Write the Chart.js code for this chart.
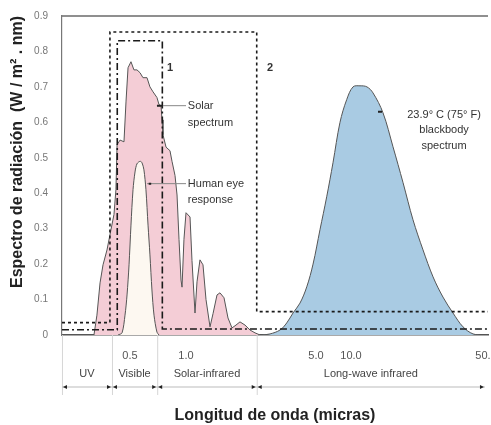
<!DOCTYPE html>
<html>
<head>
<meta charset="utf-8">
<script src="https://cdn.jsdelivr.net/npm/chart.js@4.4.1/dist/chart.umd.min.js"></script>
<style>
  html, body { margin: 0; padding: 0; background: #fff; }
  #wrap { width: 491px; height: 425px; }
</style>
</head>
<body>
<div id="wrap"><canvas id="myChart" width="491" height="425"></canvas></div>
<script>
// wavelength (micras) and value (W / m2 . nm)
let solarUm = [0.320, 0.332, 0.345, 0.358, 0.376, 0.395, 0.410, 0.420, 0.426, 0.442, 0.464, 0.476, 0.488, 0.506, 0.525, 0.545, 0.566, 0.587, 0.617, 0.640, 0.665, 0.698, 0.716, 0.734, 0.743, 0.752, 0.781, 0.820, 0.841, 0.873, 0.895, 0.917, 0.940, 0.952, 0.975, 1.0, 1.051, 1.077, 1.118, 1.146, 1.189, 1.234, 1.281, 1.346, 1.397, 1.468, 1.523, 1.601, 1.682, 1.767, 1.857, 1.951, 2.076, 2.209, 2.35, 2.5]
let solarVal = [0, 0.056, 0.147, 0.198, 0.24, 0.297, 0.34, 0.41, 0.537, 0.55, 0.545, 0.66, 0.754, 0.771, 0.748, 0.748, 0.74, 0.726, 0.726, 0.70, 0.686, 0.67, 0.65, 0.647, 0.607, 0.565, 0.53, 0.52, 0.49, 0.45, 0.395, 0.27, 0.155, 0.135, 0.27, 0.345, 0.333, 0.21, 0.062, 0.15, 0.212, 0.198, 0.10, 0.023, 0.06, 0.113, 0.119, 0.105, 0.048, 0.02, 0.028, 0.037, 0.028, 0.014, 0.006, 0]

let eyeUm = [0.431, 0.453, 0.470, 0.482, 0.494, 0.506, 0.519, 0.532, 0.545, 0.566, 0.580, 0.594, 0.609, 0.625, 0.640, 0.656, 0.673, 0.698, 0.716]
let eyeVal = [0, 0.006, 0.056, 0.113, 0.198, 0.31, 0.41, 0.46, 0.483, 0.49, 0.486, 0.466, 0.41, 0.31, 0.226, 0.127, 0.056, 0.008, 0]

let bbUm = [2.56, 2.83, 3.20, 3.48, 3.76, 4.10, 4.46, 4.82, 5.41, 6.18, 7.00, 8.04, 9.18, 10.25, 11.16, 12.15, 13.08, 14.77, 16.69, 18.86, 21.3, 24.07, 27.2, 30.7, 34.7, 39.2, 44.3, 50, 53.2]
let bbVal = [0, 0.003, 0.014, 0.034, 0.062, 0.09, 0.136, 0.2, 0.297, 0.39, 0.486, 0.6, 0.664, 0.70, 0.703, 0.70, 0.683, 0.627, 0.531, 0.43, 0.325, 0.24, 0.164, 0.107, 0.062, 0.023, 0.003, 0, 0]

// box 1 (dash-dot) and box 2 (dashed)
let box1Um = [0.2154, 0.427, 0.427, 0.746, 0.746, 53.2]
let box1Val = [0.015, 0.015, 0.83, 0.83, 0.017, 0.017]
let box2Um = [0.2154, 0.390, 0.390, 2.40, 2.40, 53.2]
let box2Val = [0.035, 0.035, 0.855, 0.855, 0.066, 0.066]

let xTickUm = [0.5, 1.0, 5.0, 10.0, 50]
let xTickLabels = ['0.5', '1.0', '5.0', '10.0', '50.']
let yTicks = [0, 0.1, 0.2, 0.3, 0.4, 0.5, 0.6, 0.7, 0.8, 0.9]

let bands = ['UV', 'Visible', 'Solar-infrared', 'Long-wave infrared']
let bandEdgesUm = [0.2154, 0.4, 0.7, 2.4, 53.2]

// the wavelength axis of the figure is a stretched log scale, different on each side of 5 and 10 micras
function pos(um){
    if(um <= 5) return 124 + 186 * Math.log10(um)
    if(um <= 10) return 254 + 116.3 * Math.log10(um / 5)
    return 289 + 188.8 * Math.log10(um / 10)
}
function pts(um, val){
    return um.map((u, i) => ({x: pos(u), y: val[i]}))
}

const font = "'Liberation Sans', Arial, sans-serif"

const extras = {
    id: 'extras',
    afterDatasetsDraw(chart){
        const ctx = chart.ctx
        const xs = chart.scales.x, ys = chart.scales.y
        const X = (um) => xs.getPixelForValue(pos(um))
        const Y = (v) => ys.getPixelForValue(v)
        const area = chart.chartArea
        ctx.save()
        // frame top
        ctx.strokeStyle = '#6a6a6a'
        ctx.lineWidth = 1.5
        ctx.beginPath()
        ctx.moveTo(area.left, area.top)
        ctx.lineTo(area.right, area.top)
        ctx.stroke()

        // leader lines
        ctx.strokeStyle = '#888'
        ctx.lineWidth = 1
        ctx.beginPath()
        ctx.moveTo(X(0.698), Y(0.647)); ctx.lineTo(X(1.0), Y(0.647))
        ctx.moveTo(X(0.617), Y(0.427)); ctx.lineTo(X(1.0), Y(0.427))
        ctx.stroke()
        ctx.strokeStyle = '#222'
        ctx.lineWidth = 2
        ctx.beginPath()
        ctx.moveTo(X(0.698), Y(0.647)); ctx.lineTo(X(0.752), Y(0.647))
        ctx.moveTo(X(0.630), Y(0.427)); ctx.lineTo(X(0.650), Y(0.427))
        ctx.moveTo(X(13.9), Y(0.63)); ctx.lineTo(X(14.6), Y(0.63))
        ctx.stroke()

        // text notes
        ctx.fillStyle = '#333'
        ctx.textBaseline = 'middle'
        ctx.font = 'bold 11px ' + font
        ctx.textAlign = 'center'
        ctx.fillText('1', X(0.82), Y(0.754))
        ctx.fillText('2', X(2.83), Y(0.754))
        ctx.font = '11px ' + font
        ctx.textAlign = 'left'
        ctx.fillText('Solar', X(1.023), Y(0.647))
        ctx.fillText('spectrum', X(1.023), Y(0.599))
        ctx.fillText('Human eye', X(1.023), Y(0.427))
        ctx.fillText('response', X(1.023), Y(0.381))
        ctx.textAlign = 'center'
        ctx.fillText('23.9° C (75° F)', X(31.1), Y(0.621))
        ctx.fillText('blackbody', X(31.1), Y(0.579))
        ctx.fillText('spectrum', X(31.1), Y(0.534))

        // band row below the axis
        const rowY = area.bottom + 39
        const arrowY = area.bottom + 52
        ctx.strokeStyle = '#d6d6d6'
        ctx.lineWidth = 1
        ctx.beginPath()
        bandEdgesUm.slice(0, -1).forEach(u => {
            ctx.moveTo(X(u) + 0.5, area.bottom); ctx.lineTo(X(u) + 0.5, arrowY + 8)
        })
        ctx.stroke()
        ctx.strokeStyle = '#bbb'
        ctx.beginPath()
        ctx.moveTo(X(bandEdgesUm[0]), arrowY); ctx.lineTo(X(50) + 2, arrowY)
        ctx.stroke()
        ctx.font = '11px ' + font
        for(let i = 0; i < bands.length; i++){
            let a = X(bandEdgesUm[i]), b = i == bands.length - 1 ? X(50) + 2 : X(bandEdgesUm[i + 1])
            ctx.fillStyle = '#444'
            ctx.fillText(bands[i], (a + b) / 2, rowY)
            ctx.fillStyle = '#222'
            ctx.beginPath()
            ctx.moveTo(a + 1, arrowY); ctx.lineTo(a + 5, arrowY - 2); ctx.lineTo(a + 5, arrowY + 2); ctx.closePath()
            ctx.moveTo(b - 1, arrowY); ctx.lineTo(b - 5, arrowY - 2); ctx.lineTo(b - 5, arrowY + 2); ctx.closePath()
            ctx.fill()
        }
        ctx.restore()
    }
}

new Chart(document.getElementById('myChart'), {
    type: 'line',
    data: {
        datasets: [
            {
                label: 'box 1',
                data: pts(box1Um, box1Val),
                borderColor: '#1a1a1a', borderWidth: 1.6, borderDash: [7, 3, 2, 3],
                pointRadius: 0, fill: false, tension: 0, order: 1
            },
            {
                label: 'box 2',
                data: pts(box2Um, box2Val),
                borderColor: '#1a1a1a', borderWidth: 1.6, borderDash: [3, 3],
                pointRadius: 0, fill: false, tension: 0, order: 2
            },
            {
                label: 'Human eye response',
                data: pts(eyeUm, eyeVal),
                borderColor: '#555', borderWidth: 1, backgroundColor: '#fdf8f1',
                pointRadius: 0, fill: 'origin', tension: 0.3, order: 3
            },
            {
                label: 'Solar spectrum',
                data: pts(solarUm, solarVal),
                borderColor: '#555', borderWidth: 1, backgroundColor: '#f4cdd6',
                pointRadius: 0, fill: 'origin', tension: 0, order: 4
            },
            {
                label: 'blackbody',
                data: pts(bbUm, bbVal),
                borderColor: '#555', borderWidth: 1, backgroundColor: '#a9cbe3',
                pointRadius: 0, fill: 'origin', tension: 0.35, order: 5
            }
        ]
    },
    options: {
        responsive: false,
        animation: false,
        layout: { padding: { top: 16, right: 3, left: 0, bottom: 0 } },
        plugins: { legend: { display: false }, tooltip: { enabled: false } },
        scales: {
            x: {
                type: 'linear', min: 0, max: 426,
                grid: { display: false, drawTicks: false },
                border: { color: '#555', width: 1.5 },
                afterFit: (s) => { s.height = 90; s.paddingLeft = 0; s.paddingRight = 0 },
                afterBuildTicks: (s) => { s.ticks = xTickUm.map(u => ({ value: pos(u) })) },
                ticks: {
                    autoSkip: false, maxRotation: 0, padding: 14,
                    color: '#555', font: { family: font, size: 11 },
                    callback: (v, i) => xTickLabels[i]
                },
                title: {
                    display: true, text: 'Longitud de onda (micras)',
                    color: '#222', font: { family: font, size: 16, weight: 'bold' },
                    padding: { top: 0, bottom: 0 }
                }
            },
            y: {
                type: 'linear', min: 0, max: 0.9,
                grid: { display: false, drawTicks: false },
                border: { color: '#777', width: 1.2 },
                afterFit: (s) => { s.width = 62; s.paddingTop = 0; s.paddingBottom = 0 },
                afterBuildTicks: (s) => { s.ticks = yTicks.map(v => ({ value: v })) },
                ticks: {
                    padding: 14, color: '#777', font: { family: font, size: 10 },
                    callback: (v) => v === 0 ? '0' : v.toFixed(1)
                },
                title: {
                    display: true, text: 'Espectro de radiación  (W / m² . nm)',
                    align: 'end',
                    color: '#222', font: { family: font, size: 16, weight: 'bold' },
                    padding: { top: 8, bottom: 0 }
                }
            }
        }
    },
    plugins: [extras]
})
</script>
</body>
</html>
